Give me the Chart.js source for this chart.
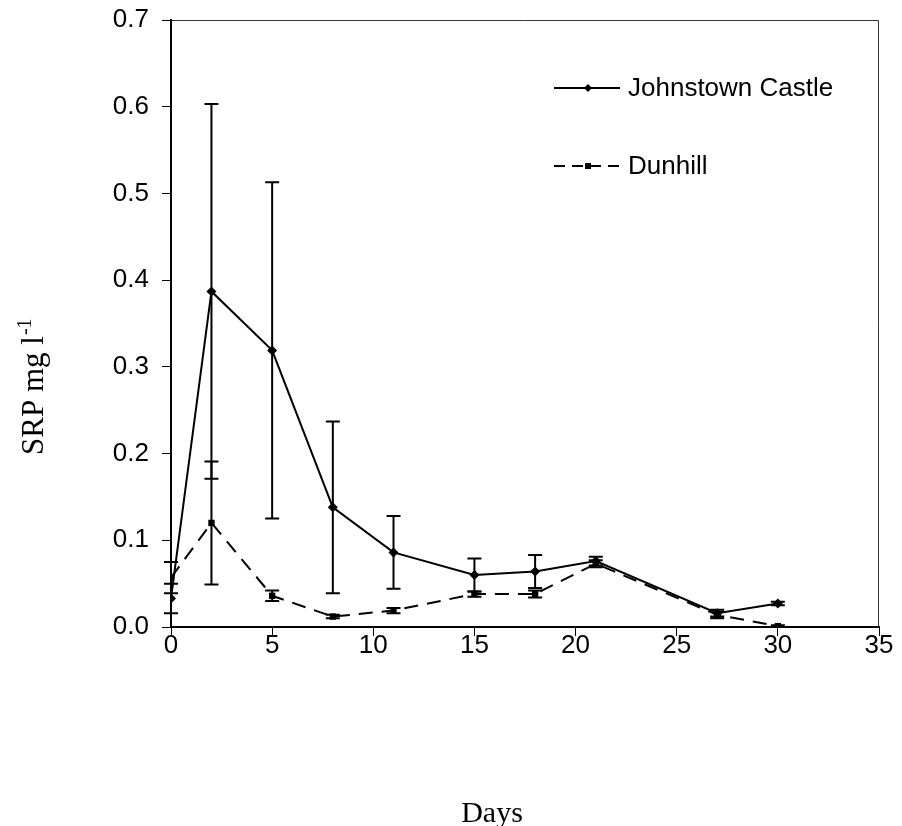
<!DOCTYPE html>
<html lang="en">
<head>
    <meta charset="UTF-8">
    <title>SRP over time</title>
    <script src="https://cdn.jsdelivr.net/npm/chart.js"></script>
    <style>
        * { margin: 0; padding: 0; box-sizing: border-box; }
        body { background: #fff; width: 902px; height: 826px; overflow: hidden; }
        canvas { display: block; }
    </style>
</head>
<body>
    <canvas id="srpChart" width="902" height="826"></canvas>
    <script>
        // values
        let days = [0, 2, 5, 8, 11, 15, 18, 21, 27, 30];
        let johnstown = [0.033, 0.387, 0.319, 0.138, 0.086, 0.060, 0.064, 0.076, 0.016, 0.027];
        let johnstownErr = [0.017, 0.216, 0.194, 0.099, 0.042, 0.019, 0.019, 0.005, 0.004, 0.002];
        let dunhill = [0.057, 0.120, 0.036, 0.012, 0.019, 0.038, 0.038, 0.073, 0.014, 0.001];
        let dunhillErr = [0.018, 0.071, 0.006, 0.002, 0.003, 0.003, 0.004, 0.004, 0.004, 0.001];
        let seriesNames = ["Johnstown Castle", "Dunhill"];
        let xTicks = [0, 5, 10, 15, 20, 25, 30, 35];
        let yTicks = [0, 0.1, 0.2, 0.3, 0.4, 0.5, 0.6, 0.7];

        const sans = "Arial, 'Liberation Sans', sans-serif";
        const serif = "'Times New Roman', 'Liberation Serif', serif";

        function toPoints(vals) {
            return days.map((d, i) => ({ x: d, y: vals[i] }));
        }

        // vertical error bars with caps, drawn under the markers
        const errorBars = {
            id: 'errorBars',
            beforeDatasetsDraw(chart) {
                let ctx = chart.ctx;
                let xs = chart.scales.x, ys = chart.scales.y;
                let sets = [[johnstown, johnstownErr], [dunhill, dunhillErr]];
                ctx.save();
                ctx.strokeStyle = '#000';
                ctx.lineWidth = 2;
                sets.forEach(([vals, errs]) => {
                    vals.forEach((v, i) => {
                        let px = xs.getPixelForValue(days[i]);
                        let top = ys.getPixelForValue(v + errs[i]);
                        let bot = ys.getPixelForValue(Math.max(v - errs[i], 0));
                        ctx.beginPath();
                        ctx.moveTo(px, top); ctx.lineTo(px, bot);
                        ctx.moveTo(px - 7, top); ctx.lineTo(px + 7, top);
                        ctx.moveTo(px - 7, bot); ctx.lineTo(px + 7, bot);
                        ctx.stroke();
                    });
                });
                ctx.restore();
            }
        };

        // frame, legend and axis titles
        const decorations = {
            id: 'decorations',
            afterDraw(chart) {
                let ctx = chart.ctx;
                let a = chart.chartArea;
                ctx.save();

                // thin top/right frame
                ctx.strokeStyle = '#333';
                ctx.lineWidth = 1;
                ctx.beginPath();
                ctx.moveTo(a.left, a.top + 0.5);
                ctx.lineTo(a.right - 0.5, a.top + 0.5);
                ctx.lineTo(a.right - 0.5, a.bottom);
                ctx.stroke();

                // legend
                let rows = [
                    { name: seriesNames[0], y: 88, dash: [], style: 'diamond' },
                    { name: seriesNames[1], y: 166, dash: [11, 7], style: 'square' }
                ];
                rows.forEach(r => {
                    ctx.strokeStyle = '#000';
                    ctx.lineWidth = 2;
                    ctx.setLineDash(r.dash);
                    ctx.beginPath();
                    ctx.moveTo(554, r.y);
                    ctx.lineTo(620, r.y);
                    ctx.stroke();
                    ctx.setLineDash([]);
                    ctx.fillStyle = '#000';
                    ctx.beginPath();
                    if (r.style === 'diamond') {
                        ctx.moveTo(588, r.y - 4); ctx.lineTo(592, r.y);
                        ctx.lineTo(588, r.y + 4); ctx.lineTo(584, r.y);
                        ctx.closePath();
                    } else {
                        ctx.rect(585, r.y - 3, 6, 6);
                    }
                    ctx.fill();
                    ctx.font = '26px ' + sans;
                    ctx.textAlign = 'left';
                    ctx.textBaseline = 'middle';
                    ctx.fillText(r.name, 628, r.y + 1);
                });

                // x title
                ctx.fillStyle = '#000';
                ctx.font = '30px ' + serif;
                ctx.textAlign = 'center';
                ctx.textBaseline = 'alphabetic';
                ctx.fillText('Days', 492, 822);

                // y title with superscript
                ctx.translate(43, 455);
                ctx.rotate(-Math.PI / 2);
                ctx.textAlign = 'left';
                ctx.font = '31px ' + serif;
                let main = 'SRP mg l';
                ctx.fillText(main, 0, 0);
                let w = ctx.measureText(main).width;
                ctx.font = '20px ' + serif;
                ctx.fillText('-1', w + 1, -12);

                ctx.restore();
            }
        };

        new Chart(document.getElementById('srpChart'), {
            type: 'line',
            data: {
                datasets: [{
                    label: seriesNames[0],
                    data: toPoints(johnstown),
                    borderColor: '#000',
                    backgroundColor: '#000',
                    borderWidth: 2,
                    pointStyle: 'rectRot',
                    pointRadius: 5,
                    pointBorderWidth: 0,
                    tension: 0,
                    fill: false
                }, {
                    label: seriesNames[1],
                    data: toPoints(dunhill),
                    borderColor: '#000',
                    backgroundColor: '#000',
                    borderWidth: 2,
                    borderDash: [14, 9],
                    pointStyle: 'rect',
                    pointRadius: 4.5,
                    pointBorderWidth: 0,
                    tension: 0,
                    fill: false
                }]
            },
            options: {
                responsive: false,
                animation: false,
                layout: { padding: { top: 20, right: 23, left: 0, bottom: 0 } },
                plugins: {
                    legend: { display: false },
                    tooltip: { enabled: false }
                },
                scales: {
                    x: {
                        type: 'linear',
                        min: 0,
                        max: 35,
                        afterFit: s => { s.height = 199; s.paddingRight = 0; s.paddingLeft = 0; },
                        afterBuildTicks: s => { s.ticks = xTicks.map(v => ({ value: v })); },
                        ticks: {
                            color: '#000',
                            font: { family: sans, size: 26 },
                            padding: -6,
                            maxRotation: 0
                        },
                        grid: {
                            drawOnChartArea: false,
                            tickLength: 9,
                            tickColor: '#000',
                            tickWidth: 1
                        },
                        border: { display: true, color: '#000', width: 2 }
                    },
                    y: {
                        type: 'linear',
                        min: 0,
                        max: 0.7,
                        afterFit: s => { s.width = 171; s.paddingTop = 0; s.paddingBottom = 0; },
                        afterBuildTicks: s => { s.ticks = yTicks.map(v => ({ value: v })); },
                        ticks: {
                            color: '#000',
                            font: { family: sans, size: 26 },
                            padding: 13,
                            callback: v => v.toFixed(1)
                        },
                        grid: {
                            drawOnChartArea: false,
                            tickLength: 9,
                            tickColor: '#000',
                            tickWidth: 1
                        },
                        border: { display: true, color: '#000', width: 2 }
                    }
                }
            },
            plugins: [errorBars, decorations]
        });
    </script>
</body>
</html>
